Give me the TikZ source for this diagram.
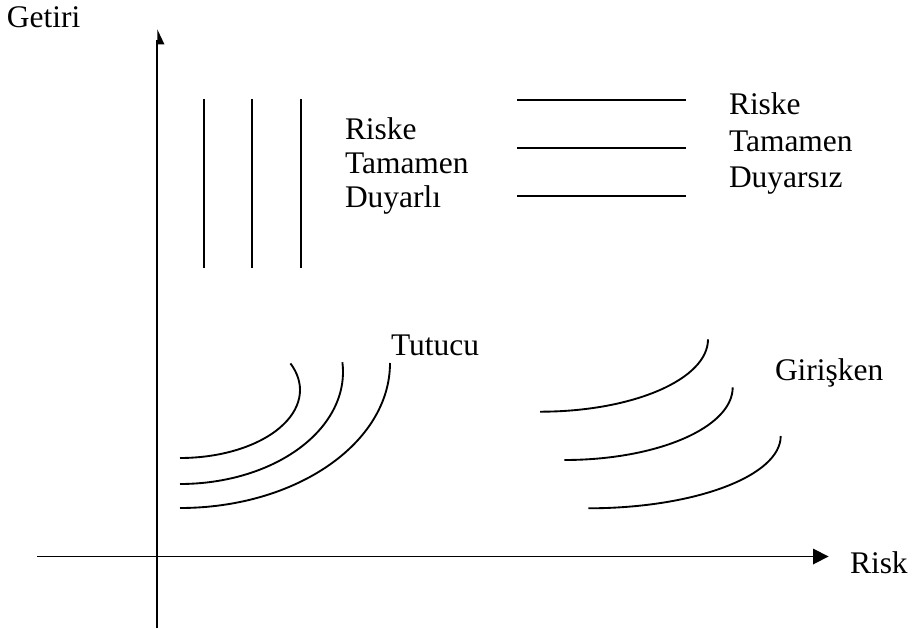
\documentclass[tikz,border=0pt]{standalone}
\usepackage{fontspec}
\setmainfont{Liberation Serif}
\begin{document}
\begin{tikzpicture}[x=0.75pt,y=-0.75pt,
  every node/.style={inner sep=0pt,outer sep=0pt,anchor=base west,font=\fontsize{23.6}{28}\selectfont},
  ln/.style={line width=1.4pt,line cap=butt},
  tipfill/.style={fill=black,draw=none}]
\useasboundingbox (0,0) rectangle (912,630);

% axes
\coordinate (yb) at (157.3,628);
\coordinate (yt) at (157.3,40);
\coordinate (xl) at (37,556.5);
\coordinate (xr) at (815,556.5);
\draw[ln] (yb) -- (yt);
\draw[ln] (xl) -- (xr);
\fill[tipfill] (157.3,29.3) -- (164.5,44.5) -- (157.3,44.5) -- cycle;
\fill[tipfill] (828.5,556.5) -- (813,548.5) -- (813,564.5) -- cycle;

\node (getiri) at (7,28) {Getiri};
\node (risk) at (850,573) {Risk};

% vertical lines: fully risk sensitive
\foreach \x/\n in {204.3/va,252.3/vb,300.7/vc}
  \draw[ln] (\x,99.3) coordinate (\n1) -- (\x,268) coordinate (\n2);
\node (riskeA) at (345,140) {Riske};
\node (tamamenA) at (345,174) {Tamamen};
\node (duyarli) at (345,208) {Duyarlı};

% horizontal lines: fully risk insensitive
\foreach \y/\n in {100/ha,148/hb,196/hc}
  \draw[ln] (517,\y) coordinate (\n1) -- (686,\y) coordinate (\n2);
\node (riskeB) at (729,115) {Riske};
\node (tamamenB) at (729,151.5) {Tamamen};
\node (duyarsiz) at (729,188) {Duyarsız};

% conservative indifference curves
\draw[ln] (180,458) arc[start angle=270,end angle=383,x radius=120,y radius=-68];
\draw[ln] (180,484) arc[start angle=270,end angle=365,x radius=163,y radius=-112];
\draw[ln] (180,508) arc[start angle=270,end angle=360,x radius=210,y radius=-145];
\node (tutucu) at (391,355) {Tutucu};

% aggressive indifference curves
\draw[ln] (540,411.7) arc[start angle=270,end angle=360,x radius=168,y radius=-72.4];
\draw[ln] (564.3,460) arc[start angle=270,end angle=360,x radius=168.4,y radius=-72.7];
\draw[ln] (588.3,508.3) arc[start angle=270,end angle=360,x radius=192.4,y radius=-72.3];
\node (girisken) at (775,380) {Girişken};
\end{tikzpicture}
\end{document}
